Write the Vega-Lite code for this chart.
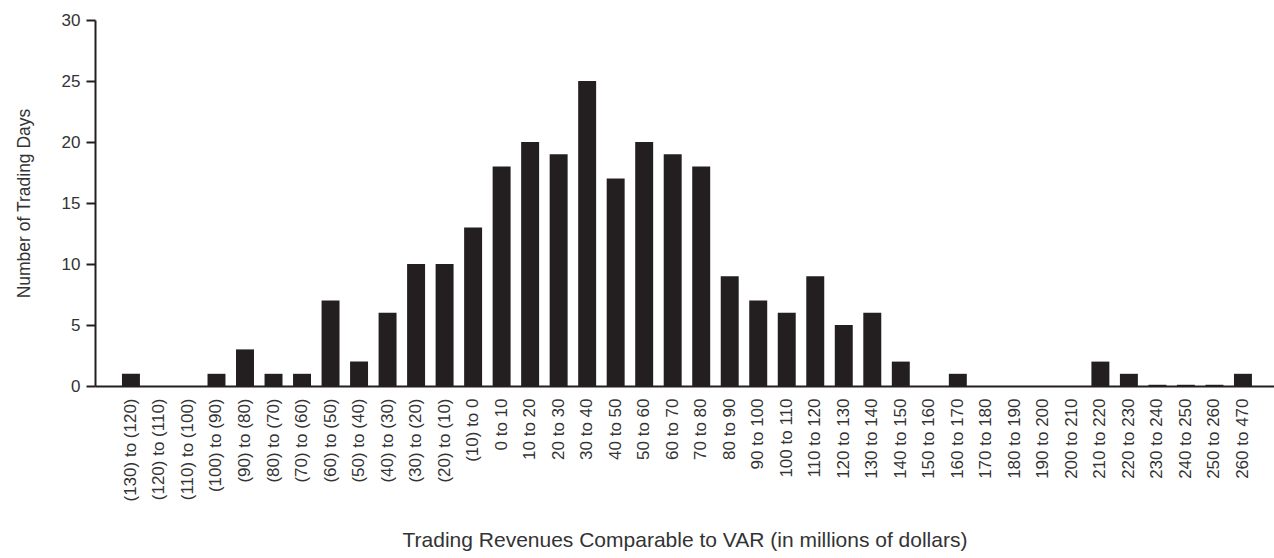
{
  "$schema": "https://vega.github.io/schema/vega-lite/v6.json",
  "width": 1179,
  "height": 366,
  "autosize": "none",
  "padding": {"left": 95, "top": 20, "right": 0, "bottom": 172},
  "background": "white",
  "data": {"values": [
    {"range": "(130) to (120)", "days": 1},
    {"range": "(120) to (110)", "days": 0},
    {"range": "(110) to (100)", "days": 0},
    {"range": "(100) to (90)", "days": 1},
    {"range": "(90) to (80)", "days": 3},
    {"range": "(80) to (70)", "days": 1},
    {"range": "(70) to (60)", "days": 1},
    {"range": "(60) to (50)", "days": 7},
    {"range": "(50) to (40)", "days": 2},
    {"range": "(40) to (30)", "days": 6},
    {"range": "(30) to (20)", "days": 10},
    {"range": "(20) to (10)", "days": 10},
    {"range": "(10) to 0", "days": 13},
    {"range": "0 to 10", "days": 18},
    {"range": "10 to 20", "days": 20},
    {"range": "20 to 30", "days": 19},
    {"range": "30 to 40", "days": 25},
    {"range": "40 to 50", "days": 17},
    {"range": "50 to 60", "days": 20},
    {"range": "60 to 70", "days": 19},
    {"range": "70 to 80", "days": 18},
    {"range": "80 to 90", "days": 9},
    {"range": "90 to 100", "days": 7},
    {"range": "100 to 110", "days": 6},
    {"range": "110 to 120", "days": 9},
    {"range": "120 to 130", "days": 5},
    {"range": "130 to 140", "days": 6},
    {"range": "140 to 150", "days": 2},
    {"range": "150 to 160", "days": 0},
    {"range": "160 to 170", "days": 1},
    {"range": "170 to 180", "days": 0},
    {"range": "180 to 190", "days": 0},
    {"range": "190 to 200", "days": 0},
    {"range": "200 to 210", "days": 0},
    {"range": "210 to 220", "days": 2},
    {"range": "220 to 230", "days": 1},
    {"range": "230 to 240", "days": 0.1},
    {"range": "240 to 250", "days": 0.1},
    {"range": "250 to 260", "days": 0.1},
    {"range": "260 to 470", "days": 1}
  ]},
  "mark": {"type": "bar", "color": "#231f20"},
  "encoding": {
    "x": {
      "field": "range", "type": "nominal", "sort": null,
      "scale": {"paddingInner": 0.37, "paddingOuter": 0.86, "align": 0.55},
      "axis": {
        "title": "Trading Revenues Comparable to VAR (in millions of dollars)",
        "labelAngle": -90, "ticks": false, "labelPadding": 12,
        "titlePadding": 29, "titleFontSize": 21
      }
    },
    "y": {
      "field": "days", "type": "quantitative",
      "scale": {"domain": [0, 30], "nice": false},
      "axis": {
        "title": "Number of Trading Days",
        "values": [0, 5, 10, 15, 20, 25, 30],
        "grid": false, "tickSize": 9, "labelPadding": 6, "titlePadding": 28,
        "titleFontSize": 17.5
      }
    }
  },
  "config": {
    "view": {"stroke": null},
    "axis": {
      "labelFont": "Liberation Sans", "titleFont": "Liberation Sans",
      "labelFontWeight": "normal", "titleFontWeight": "normal",
      "labelFontSize": 17,
      "labelColor": "#333333", "titleColor": "#333333",
      "domainColor": "#231f20", "tickColor": "#231f20",
      "domainWidth": 2, "tickWidth": 2
    }
  }
}
